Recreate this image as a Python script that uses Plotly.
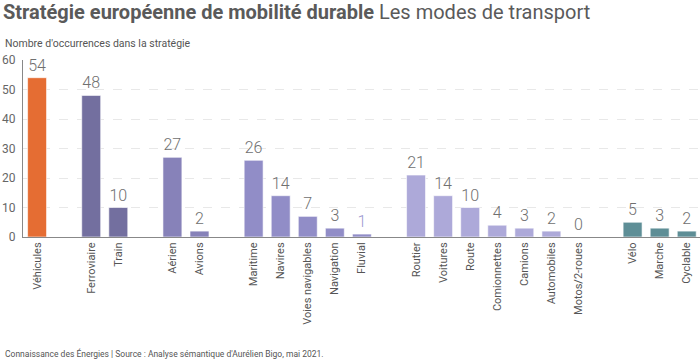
import plotly.graph_objects as go

# Data, organised by transport group
groups = ["Véhicules", "Ferroviaire", "Aérien", "Maritime", "Routier", "Actif"]
group_categories = [
    ["Véhicules"],
    ["Ferroviaire", "Train"],
    ["Aérien", "Avions"],
    ["Maritime", "Navires", "Voies navigables", "Navigation", "Fluvial"],
    ["Routier", "Voitures", "Route", "Comionnettes", "Camions", "Automobiles", "Motos/2-roues"],
    ["Vélo", "Marche", "Cyclable"],
]
group_values = [
    [54],
    [48, 10],
    [27, 2],
    [26, 14, 7, 3, 1],
    [21, 14, 10, 4, 3, 2, 0],
    [5, 3, 2],
]
group_colors = ["#E56D33", "#736F9F", "#8782B9", "#918DC7", "#ADA9D9", "#5E8E96"]
y_ticks = [0, 10, 20, 30, 40, 50, 60]

TEXT = "#666666"
FONT = "Roboto"

fig = go.Figure()
pos = 0
all_pos, all_cat = [], []
for g, cats, vals, col in zip(groups, group_categories, group_values, group_colors):
    xs = list(range(pos, pos + len(cats)))
    tcolors = ["#9C98D0" if c == "Fluvial" else "#707070" for c in cats]
    fig.add_trace(go.Bar(
        x=xs, y=vals, name=g, width=0.7,
        marker=dict(color=col, line=dict(color="rgba(255,255,255,0.6)", width=1)),
        text=[str(v) for v in vals], textposition="outside",
        textfont=dict(family=FONT, size=16, color=tcolors, weight=300),
        cliponaxis=False, hoverinfo="x+y",
    ))
    all_pos += xs
    all_cat += cats
    pos += len(cats) + 1

fig.update_layout(
    width=700, height=360,
    margin=dict(l=23, r=0, t=60, b=123),
    plot_bgcolor="white", paper_bgcolor="white",
    showlegend=False, bargap=0.3,
    font=dict(family=FONT, color=TEXT),
    title=dict(
        text="<b>Stratégie européenne de mobilité durable</b> Les modes de transport",
        x=3 / 700, xref="container", xanchor="left",
        y=1 - 12 / 360, yref="container", yanchor="middle",
        font=dict(family=FONT, size=20, color="#5a5a5a"),
    ),
    xaxis=dict(
        tickmode="array", tickvals=all_pos, ticktext=all_cat,
        tickangle=-90, range=[-0.52, 24.49],
        tickfont=dict(family=FONT, size=11, color="#555555"),
        showline=True, linecolor="#888888", linewidth=1,
        showgrid=False, ticks="", zeroline=False,
    ),
    yaxis=dict(
        range=[0, 60], tickvals=y_ticks,
        tickfont=dict(family=FONT, size=12, color=TEXT),
        showline=True, linecolor="#888888", linewidth=1,
        showgrid=True, gridcolor="#e8e8e8", griddash="dash", gridwidth=1,
        zeroline=False, ticks="", ticklabelstandoff=4,
    ),
    annotations=[
        dict(text="Nombre d'occurrences dans la stratégie",
             xref="paper", yref="paper", x=(3 - 23) / 677, y=(237 - 43) / 177,
             xanchor="left", yanchor="middle", showarrow=False,
             font=dict(family=FONT, size=10.5, color="#555555")),
        dict(text="Connaissance des Énergies | Source : Analyse sémantique d'Aurélien Bigo, mai 2021.",
             xref="paper", yref="paper", x=(3 - 23) / 677, y=(237 - 353) / 177,
             xanchor="left", yanchor="middle", showarrow=False,
             font=dict(family=FONT, size=8.5, color="#555555")),
    ],
)

fig.write_html(
    "out.html",
    config={"displayModeBar": False},
    post_script="document.body.style.margin='0';document.body.style.overflow='hidden';",
)
